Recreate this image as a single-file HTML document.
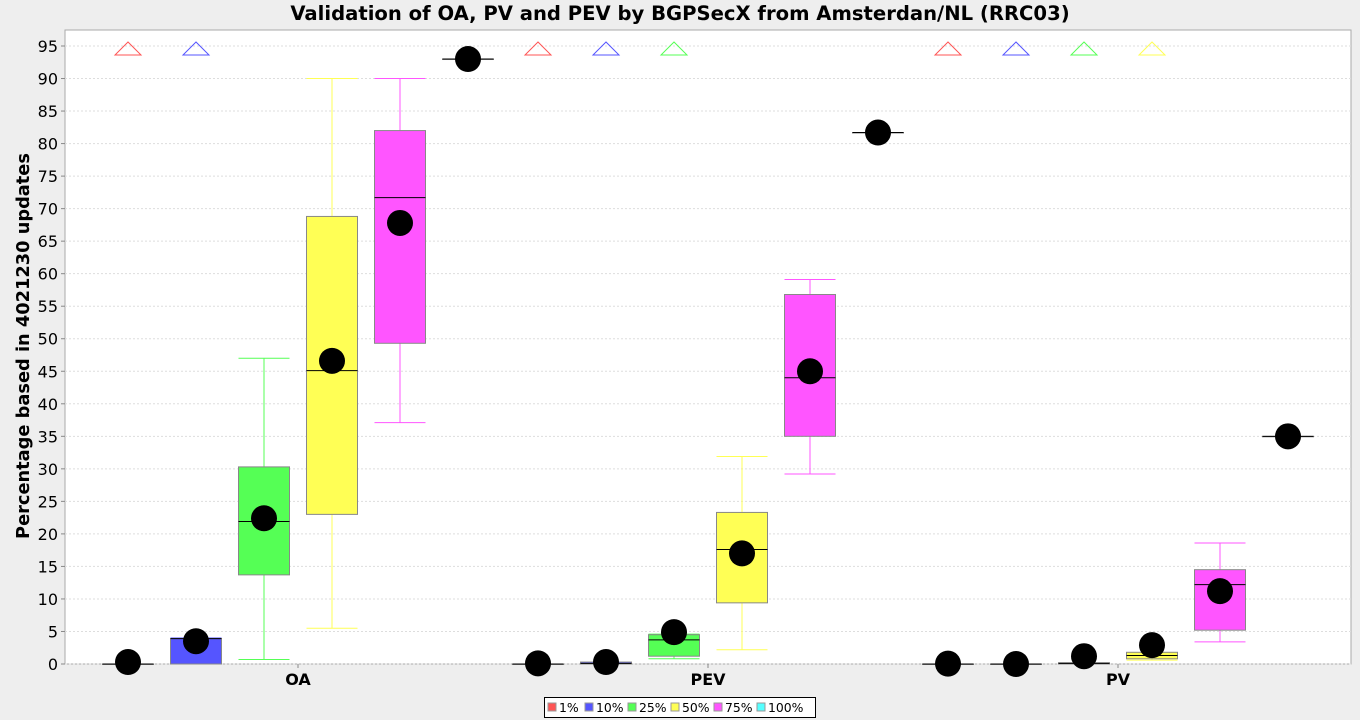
<!DOCTYPE html>
<html><head><meta charset="utf-8"><style>
body{margin:0;background:#eeeeee;font-family:"Liberation Sans","DejaVu Sans",sans-serif;}
svg{display:block}
</style></head><body>
<svg id="c" width="1360" height="720" xmlns="http://www.w3.org/2000/svg">
<rect x="0" y="0" width="1360" height="720" fill="#eeeeee"/>
<text x="680" y="20" text-anchor="middle" font-family="DejaVu Sans,sans-serif" font-weight="bold" font-size="19.6">Validation of OA, PV and PEV by BGPSecX from Amsterdan/NL (RRC03)</text>
<rect x="65" y="30" width="1286" height="634" fill="#ffffff" stroke="#aaaaaa"/>
<g id="grid"></g>
<g id="yticks"></g>
<g id="marks"></g>
<text transform="translate(29,346) rotate(-90)" text-anchor="middle" font-family="DejaVu Sans,sans-serif" font-weight="bold" font-size="17.8">Percentage based in 4021230 updates</text>
<g id="xlabels"></g>
<g id="legend"></g>
</svg>
<script>
const categories=["OA","PEV","PV"];
const seriesNames=["1%","10%","25%","50%","75%","100%"];
const colors=["#ff5555","#5555ff","#55ff55","#ffff55","#ff55ff","#55ffff"];
// per category, per series: [min, q1, median, q3, max, mean]
const oaStats=[[0,0,0,0,0,0.3],[0,0,3.9,3.9,4,3.5],[0.7,13.7,21.9,30.3,47,22.4],[5.5,23,45.1,68.8,90,46.6],[37.1,49.3,71.7,82,90,67.8],[93,93,93,93,93,93]];
const pevStats=[[0,0,0,0,0,0.1],[0,0,0.1,0.3,0.3,0.3],[0.8,1.2,3.7,4.5,4.6,4.9],[2.2,9.4,17.6,23.3,31.9,17.0],[29.2,35,44,56.8,59.1,45],[81.7,81.7,81.7,81.7,81.7,81.7]];
const pvStats=[[0,0,0,0,0,0.05],[0,0,0,0,0,0],[0,0,0.1,0.2,0.2,1.2],[0.6,0.8,1.3,1.8,1.8,2.9],[3.4,5.2,12.2,14.5,18.6,11.2],[35,35,35,35,35,35]];
const outlierFlags=[[1,1,0,0,0,0],[1,1,1,0,0,0],[1,1,1,1,0,0]];
const yTicks=[0,5,10,15,20,25,30,35,40,45,50,55,60,65,70,75,80,85,90,95];
const stats=[oaStats,pevStats,pvStats];
const NS="http://www.w3.org/2000/svg";
const y0=664,pxPer=(664-46)/95;
const Y=v=>y0-v*pxPer;
const X=(c,s)=>128+c*410+s*68;
function mk(tag,attrs,parent){const e=document.createElementNS(NS,tag);for(const k in attrs)e.setAttribute(k,attrs[k]);parent.appendChild(e);return e;}
const grid=document.getElementById('grid'),yt=document.getElementById('yticks'),marks=document.getElementById('marks');
yTicks.forEach(t=>{
 const g=mk('line',{x1:65,x2:1351,y1:Y(t),y2:Y(t),stroke:'#dddddd','stroke-dasharray':'2,2'},grid);
 
 
 const tk=mk('line',{x1:61,x2:65,y1:Y(t),y2:Y(t),stroke:'#888'},yt);
 
 
 const tx=mk('text',{x:58,y:Y(t)+6,'text-anchor':'end','font-size':'16','font-family':'DejaVu Sans,sans-serif'},yt);
 tx.textContent=t;
 
 
});
const half=25.5;
stats.forEach((cat,c)=>{
 cat.forEach((d,s)=>{
  const x=X(c,s),col=colors[s];
  const g=mk('g',{},marks);
  
  
  const [mn,q1,md,q3,mx,mean]=d;
  if(mx>q3){mk('line',{x1:x,x2:x,y1:Y(q3),y2:Y(mx),stroke:col},g);mk('line',{x1:x-half,x2:x+half,y1:Y(mx),y2:Y(mx),stroke:col},g);}
  if(mn<q1){mk('line',{x1:x,x2:x,y1:Y(q1),y2:Y(mn),stroke:col},g);mk('line',{x1:x-half,x2:x+half,y1:Y(mn),y2:Y(mn),stroke:col},g);}
  mk('rect',{x:x-half,y:Y(q3),width:half*2,height:Math.max(Y(q1)-Y(q3),0.5),fill:col,stroke:'#888888'},g);
  mk('line',{x1:x-half,x2:x+half,y1:Y(md),y2:Y(md),stroke:'#000'},g);
  mk('circle',{cx:x,cy:Y(mean),r:13,fill:'#000'},g);
  if(outlierFlags[c][s]){
   const t=mk('polygon',{points:`${x},42 ${x-13},55 ${x+13},55`,fill:'none',stroke:col},marks);
   
   
  }
 });
});
const xl=document.getElementById('xlabels');
categories.forEach((n,c)=>{
 const cx=(X(c,0)+X(c,5))/2;
 mk('line',{x1:cx,x2:cx,y1:664,y2:668,stroke:'#888'},xl);
 const t=mk('text',{x:cx,y:685,'text-anchor':'middle','font-size':'16','font-weight':'bold','font-family':'DejaVu Sans,sans-serif'},xl);
 t.textContent=n;
 
 
});
const lg=document.getElementById('legend');
mk('rect',{x:544.5,y:697.5,width:271,height:20,fill:'#fff',stroke:'#000'},lg);


const lx=[548,585,628,671,714,757];
seriesNames.forEach((n,i)=>{
 const g=mk('g',{},lg);
 
 
 mk('rect',{x:lx[i],y:703,width:8,height:8,fill:colors[i],stroke:'#999'},g);
 const t=mk('text',{x:lx[i]+11,y:712,'font-size':'12.4','font-family':'DejaVu Sans,sans-serif'},g);
 t.textContent=n;
});
</script>
</body></html>
